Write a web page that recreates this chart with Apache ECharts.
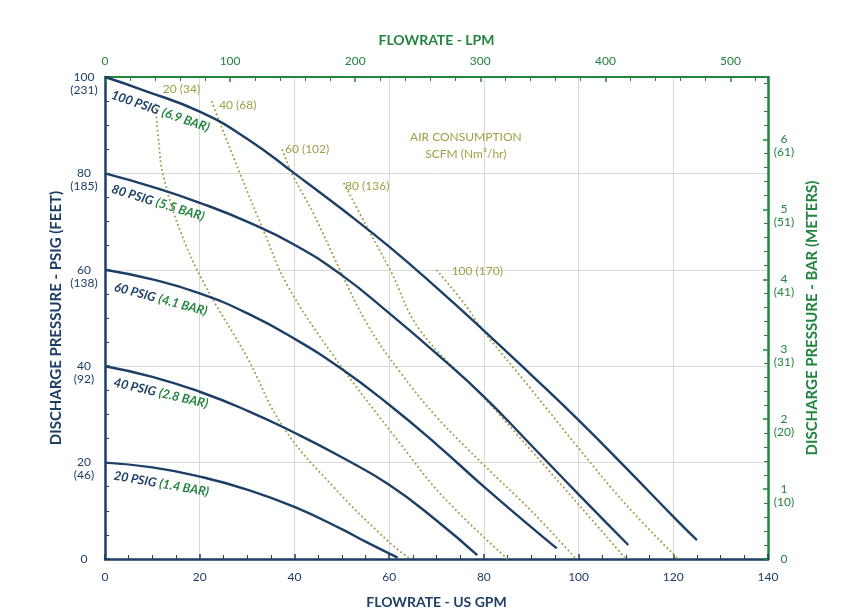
<!DOCTYPE html>
<html><head><meta charset="utf-8">
<script src="https://cdn.jsdelivr.net/npm/echarts@6/dist/echarts.min.js"></script>
<style>html,body{margin:0;padding:0;background:#fff}#c{width:842px;height:614px}</style>
</head><body><div id="c"></div>
<script>
// ---- pump curves: flow (US GPM) vs discharge pressure (PSIG)
const gpm100 = [0, 8, 20, 30, 40, 50, 60, 70, 80, 90, 100, 110, 120, 125];
const psi100 = [100, 97.3, 92.8, 87.2, 80, 72.6, 64.8, 56.3, 47.4, 38.2, 28.8, 18.9, 8.8, 3.9];
const gpm80 = [0, 10, 20, 30, 40, 50, 60, 70, 80, 90, 100, 110.5];
const psi80 = [80, 77.2, 73.9, 70, 65.2, 58.9, 51, 42.6, 33.7, 23.6, 13.4, 2.9];
const gpm60 = [0, 10, 20, 30, 40, 50, 60, 70, 80, 90, 95.4];
const psi60 = [60, 58, 55.1, 51, 45.7, 39.4, 32, 23.8, 15, 6.6, 2.2];
const gpm40 = [0, 10, 20, 30, 40, 50, 60, 70, 78.6];
const psi40 = [40, 37.8, 34.7, 30.8, 26.2, 21.1, 15.4, 8.0, 0.8];
const gpm20 = [0, 10, 20, 30, 40, 50, 55, 61.8];
const psi20 = [20, 19, 17.1, 14.4, 10.8, 6.2, 3.6, 0.3];
// ---- air consumption lines (SCFM)
const air20x = [10.6, 11.4, 12.2, 15.8, 21, 29.9, 37.6, 48, 60.2, 64.5];
const air20y = [94.5, 86, 80, 68.3, 57, 42, 27.4, 15.2, 3.3, 0];
const air40x = [22.5, 24.3, 28.5, 33.4, 38.4, 48, 62.3, 71.4, 85];
const air40y = [95, 90.4, 80, 68.3, 57, 42.5, 24, 12.9, 0];
const air60x = [37.4, 39.8, 44, 49.6, 55.5, 62.3, 70, 80, 90, 99.5];
const air60y = [85, 79.3, 71.7, 60, 48.5, 38.8, 29.5, 19.5, 10, 0];
const air80x = [50.4, 55.3, 60.2, 66.5, 80, 90, 100, 110];
const air80y = [78, 68.9, 60, 47.5, 33.5, 22.5, 11.3, 0];
const air100x = [70, 76.4, 79.2, 90, 100, 110, 121];
const air100y = [60, 52.3, 48.2, 35.2, 23, 11.3, 0];
// ---- tick labels
const psiTicks = [0, 20, 40, 60, 80, 100];
const feetTicks = ['', '46', '92', '138', '185', '231'];
const barTicks = [0, 1, 2, 3, 4, 5, 6];
const meterTicks = ['', '10', '20', '31', '41', '51', '61'];
const lpmTicks = [0, 100, 200, 300, 400, 500];
const psigNames = ['100 PSIG', '80 PSIG', '60 PSIG', '40 PSIG', '20 PSIG'];
const barNames = ['(6.9 BAR)', '(5.5 BAR)', '(4.1 BAR)', '(2.8 BAR)', '(1.4 BAR)'];
const airNames = ['20 (34)', '40 (68)', '60 (102)', '80 (136)', '100 (170)'];
const airTitle = ['AIR CONSUMPTION', 'SCFM (Nm³/hr)'];

const NAVY = '#1d3f66', GREEN = '#23843f', OLIVE = '#a19d45', GRID = '#d9d9d9';
const FONT = 'Lato, "Open Sans", sans-serif';
const zip = (xs, ys) => xs.map((x, i) => [x, ys[i]]);

const curves = [[gpm100, psi100], [gpm80, psi80], [gpm60, psi60], [gpm40, psi40], [gpm20, psi20]];
const psigLabelAt = [[11.7, 92.9, -19], [11.2, 73.9, -17], [11.8, 53.9, -15], [11.8, 34.4, -13], [11.9, 15.6, -10]];
const airs = [[air20x, air20y], [air40x, air40y], [air60x, air60y], [air80x, air80y], [air100x, air100y]];
const airLabelAt = [[12.2, 97.4], [24.1, 94.1], [38.0, 85.1], [50.7, 77.4], [73.2, 59.8]];

const series = [];
airs.forEach((a, i) => {
  const mp = [{ coord: airLabelAt[i], value: airNames[i],
    label: { show: true, position: 'right', distance: 0, formatter: airNames[i], color: OLIVE, fontSize: 12, fontFamily: FONT } }];
  if (i === 4) mp.push({ coord: [76.2, 85.7], value: 't',
    label: { show: true, position: 'inside', formatter: airTitle.join('\n'), color: OLIVE, fontSize: 12, lineHeight: 17, fontFamily: FONT, align: 'center' } });
  series.push({ type: 'line', data: zip(a[0], a[1]), smooth: 0.4, symbol: 'none', z: 2, silent: true,
    lineStyle: { color: OLIVE, width: 1.8, type: [1.8, 2.6] },
    markPoint: { symbol: 'circle', symbolSize: 0, silent: true, data: mp } });
});
curves.forEach((c, i) => {
  series.push({ type: 'line', data: zip(c[0], c[1]), smooth: 0.5, symbol: 'none', z: 3, silent: true,
    lineStyle: { color: NAVY, width: 2.4 },
    markPoint: { symbol: 'circle', symbolSize: 0, silent: true, data: [{ coord: [psigLabelAt[i][0], psigLabelAt[i][1]], value: 'p',
      label: { show: true, position: 'inside', rotate: psigLabelAt[i][2], formatter: '{a|' + psigNames[i] + '} {b|' + barNames[i] + '}',
        rich: { a: { color: NAVY, fontWeight: 'bold', fontStyle: 'italic', fontSize: 12.5, fontFamily: FONT },
                b: { color: GREEN, fontWeight: 'bold', fontStyle: 'italic', fontSize: 12.5, fontFamily: FONT } } } }] } });
});

const nameStyle = (col, size) => ({ color: col, fontWeight: 'bold', fontSize: size, fontFamily: FONT });

const option = {
  animation: false,
  backgroundColor: '#fff',
  grid: { left: 105, right: 74, top: 77, bottom: 55 },
  xAxis: [
    { type: 'value', position: 'bottom', min: 0, max: 140, interval: 20,
      name: 'FLOWRATE - US GPM', nameLocation: 'middle', nameGap: 36, nameMoveOverlap: false, nameTextStyle: nameStyle(NAVY, 14),
      axisLine: { show: true, onZero: false, lineStyle: { color: NAVY, width: 2.5 } },
      axisTick: { show: true, inside: true, length: 5, lineStyle: { color: NAVY, width: 1.5 } },
      minorTick: { show: true, splitNumber: 4, length: 4, lineStyle: { color: NAVY, width: 1 } },
      axisLabel: { color: NAVY, fontSize: 12, fontFamily: FONT, margin: 12 },
      splitLine: { show: true, lineStyle: { color: GRID, width: 1 } } },
    { type: 'value', position: 'top', min: 0, max: 140 * 3.785411784, interval: 100,
      name: 'FLOWRATE - LPM', nameLocation: 'middle', nameGap: 30, nameMoveOverlap: false, nameTextStyle: nameStyle(GREEN, 14),
      axisLine: { show: true, onZero: false, lineStyle: { color: GREEN, width: 2 } },
      axisTick: { show: true, inside: true, length: 5, lineStyle: { color: GREEN, width: 1.5 } },
      minorTick: { show: true, splitNumber: 5, length: 4, lineStyle: { color: GREEN, width: 1 } },
      axisLabel: { color: GREEN, fontSize: 12, fontFamily: FONT, margin: 10, showMaxLabel: false,
        formatter: v => lpmTicks.indexOf(Math.round(v)) >= 0 && Math.abs(v - Math.round(v)) < 1e-6 ? String(Math.round(v)) : '' },
      splitLine: { show: false } }
  ],
  yAxis: [
    { type: 'value', position: 'left', min: 0, max: 100, interval: 20,
      name: 'DISCHARGE PRESSURE - PSIG (FEET)', nameLocation: 'middle', nameGap: 41, nameMoveOverlap: false, nameRotate: 90, nameTextStyle: nameStyle(NAVY, 15),
      axisLine: { show: true, onZero: false, lineStyle: { color: NAVY, width: 2.5 } },
      axisTick: { show: true, inside: true, length: 5, lineStyle: { color: NAVY, width: 1.5 } },
      minorTick: { show: true, splitNumber: 4, length: 4, lineStyle: { color: NAVY, width: 1 } },
      axisLabel: { color: NAVY, fontSize: 12, fontFamily: FONT, margin: 21, align: 'center', lineHeight: 13,
        formatter: v => { const i = psiTicks.indexOf(v); if (i < 0) return ''; return i === 0 ? '0' : '\n' + v + '\n(' + feetTicks[i] + ')'; } },
      splitLine: { show: true, lineStyle: { color: GRID, width: 1 } } },
    { type: 'value', position: 'right', min: 0, max: 100 / 14.5037738, interval: 1,
      name: 'DISCHARGE PRESSURE - BAR (METERS)', nameLocation: 'middle', nameGap: 37, nameMoveOverlap: false, nameRotate: 90, nameTextStyle: nameStyle(GREEN, 15),
      axisLine: { show: true, onZero: false, lineStyle: { color: GREEN, width: 2.5 } },
      axisTick: { show: true, inside: true, length: 5, lineStyle: { color: GREEN, width: 1.5 } },
      minorTick: { show: true, splitNumber: 5, length: 4, lineStyle: { color: GREEN, width: 1 } },
      axisLabel: { color: GREEN, fontSize: 12, fontFamily: FONT, margin: 16, align: 'center', lineHeight: 13, showMaxLabel: false,
        formatter: v => { const i = barTicks.indexOf(v); if (i < 0) return ''; return i === 0 ? '0' : '\n' + v + '\n(' + meterTicks[i] + ')'; } },
      splitLine: { show: false } }
  ],
  series: series
};
const chart = echarts.init(document.getElementById('c'), null, { renderer: 'canvas' });
chart.setOption(option);
</script></body></html>
